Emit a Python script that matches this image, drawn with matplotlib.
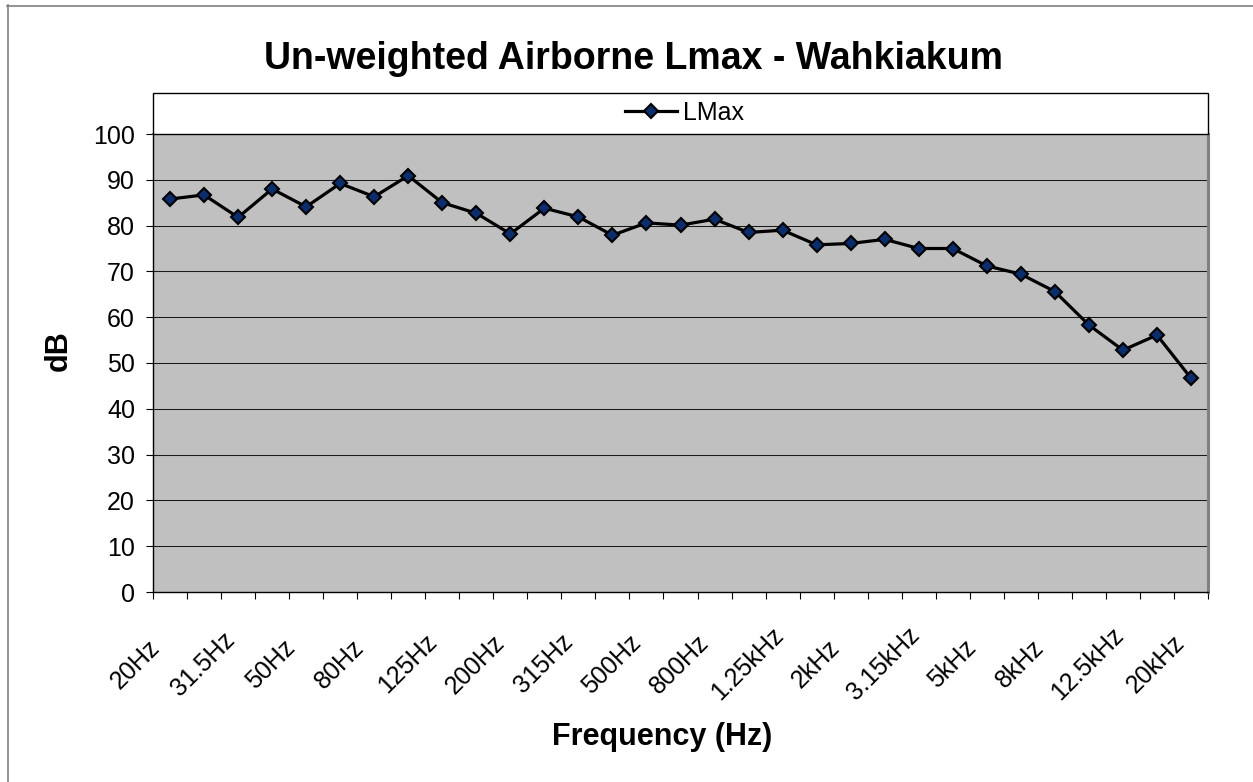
import matplotlib
matplotlib.use("Agg")
import matplotlib.pyplot as plt
from matplotlib.lines import Line2D
from matplotlib.patches import Rectangle

plt.rcParams['font.family'] = ['Liberation Sans', 'DejaVu Sans']

# ---- data ----
categories = ["20Hz", "25Hz", "31.5Hz", "40Hz", "50Hz", "63Hz", "80Hz", "100Hz",
              "125Hz", "160Hz", "200Hz", "250Hz", "315Hz", "400Hz", "500Hz",
              "630Hz", "800Hz", "1kHz", "1.25kHz", "1.6kHz", "2kHz", "2.5kHz",
              "3.15kHz", "4kHz", "5kHz", "6.3kHz", "8kHz", "10kHz", "12.5kHz",
              "16kHz", "20kHz"]
lmax = [85.8, 86.7, 81.8, 88.0, 84.1, 89.2, 86.3, 90.9, 85.0, 82.7, 78.2,
        83.8, 81.9, 77.9, 80.6, 80.1, 81.4, 78.5, 79.0, 75.8, 76.1, 77.0,
        75.0, 75.0, 71.2, 69.4, 65.6, 58.3, 52.8, 56.1, 46.7]
series_name = "LMax"
title = "Un-weighted Airborne Lmax - Wahkiakum"
xlabel = "Frequency (Hz)"
ylabel = "dB"
yticks = list(range(0, 101, 10))

# ---- figure ----
W, H = 1253, 782
fig = plt.figure(figsize=(W / 100, H / 100), dpi=100)


def fx(px):
    return px / W


def fy(py):
    return 1 - py / H


L, R, T, B = 153, 1208, 134, 592
ax = fig.add_axes([fx(L), fy(B), fx(R - L), (B - T) / H])
ax.set_facecolor('#C0C0C0')

n = len(categories)
xs = list(range(n))
line, = ax.plot(xs, lmax, color='black', lw=2.3, marker='D', markersize=6.8,
                markerfacecolor='#0b2d6b', markeredgecolor='black',
                markeredgewidth=1.5, zorder=3, label=series_name)

ax.set_xlim(-0.5, n - 0.5)
ax.set_ylim(0, 100)
ax.set_yticks(yticks)
ax.set_yticklabels([str(v) for v in yticks], fontsize=18)
ax.tick_params(axis='y', direction='out', length=5, width=0.8, pad=8,
               colors='black')
ax.set_xticks([i - 0.5 for i in range(n + 1)])
ax.set_xticklabels([])
ax.tick_params(axis='x', direction='out', length=5, width=0.8, colors='black')

for y in yticks[1:-1]:
    ax.axhline(y, color='#1a1a1a', lw=0.75, zorder=1)

for sp in ['left', 'bottom']:
    ax.spines[sp].set_color('black')
    ax.spines[sp].set_linewidth(1.0)
ax.spines['top'].set_color('#404040')
ax.spines['top'].set_linewidth(1.2)
ax.spines['right'].set_color('#808080')
ax.spines['right'].set_linewidth(2.2)

# category labels, every other one, rotated 45
for i in range(0, n, 2):
    ax.annotate(categories[i], xy=(i, 0), xycoords=('data', 'axes fraction'),
                xytext=(-35, -(664 - B)), textcoords='offset pixels',
                ha='center', va='center', rotation=45,
                rotation_mode='anchor', fontsize=18)

# axis titles
fig.text(fx(59), fy(351), ylabel, rotation=90, ha='center', va='center',
         fontsize=22, fontweight='bold')
fig.text(fx(662), fy(745), xlabel, ha='center', va='baseline',
         fontsize=22, fontweight='bold')

# chart title
fig.text(fx(633), fy(69), title, ha='center', va='baseline',
         fontsize=27, fontweight='bold')

# legend box spanning above plot area
fig.patches.append(Rectangle((fx(L), fy(T)), fx(R - L), (T - 93) / H,
                             transform=fig.transFigure, facecolor='white',
                             edgecolor='black', lw=1.0, zorder=0))
leg = fig.legend(handles=[line], loc='center',
                 bbox_to_anchor=(fx(684.5), fy(113)), frameon=False,
                 fontsize=18, handlelength=2.1, handletextpad=0.25,
                 borderpad=0, borderaxespad=0)

# outer chart border (left and top)
fig.add_artist(Line2D([fx(7.5), fx(7.5)], [fy(5), 0], transform=fig.transFigure,
                      color='#808080', lw=1.2))
fig.add_artist(Line2D([fx(7), 1], [fy(5.5), fy(5.5)], transform=fig.transFigure,
                      color='#808080', lw=1.2))

fig.savefig('out.png', dpi=100)
